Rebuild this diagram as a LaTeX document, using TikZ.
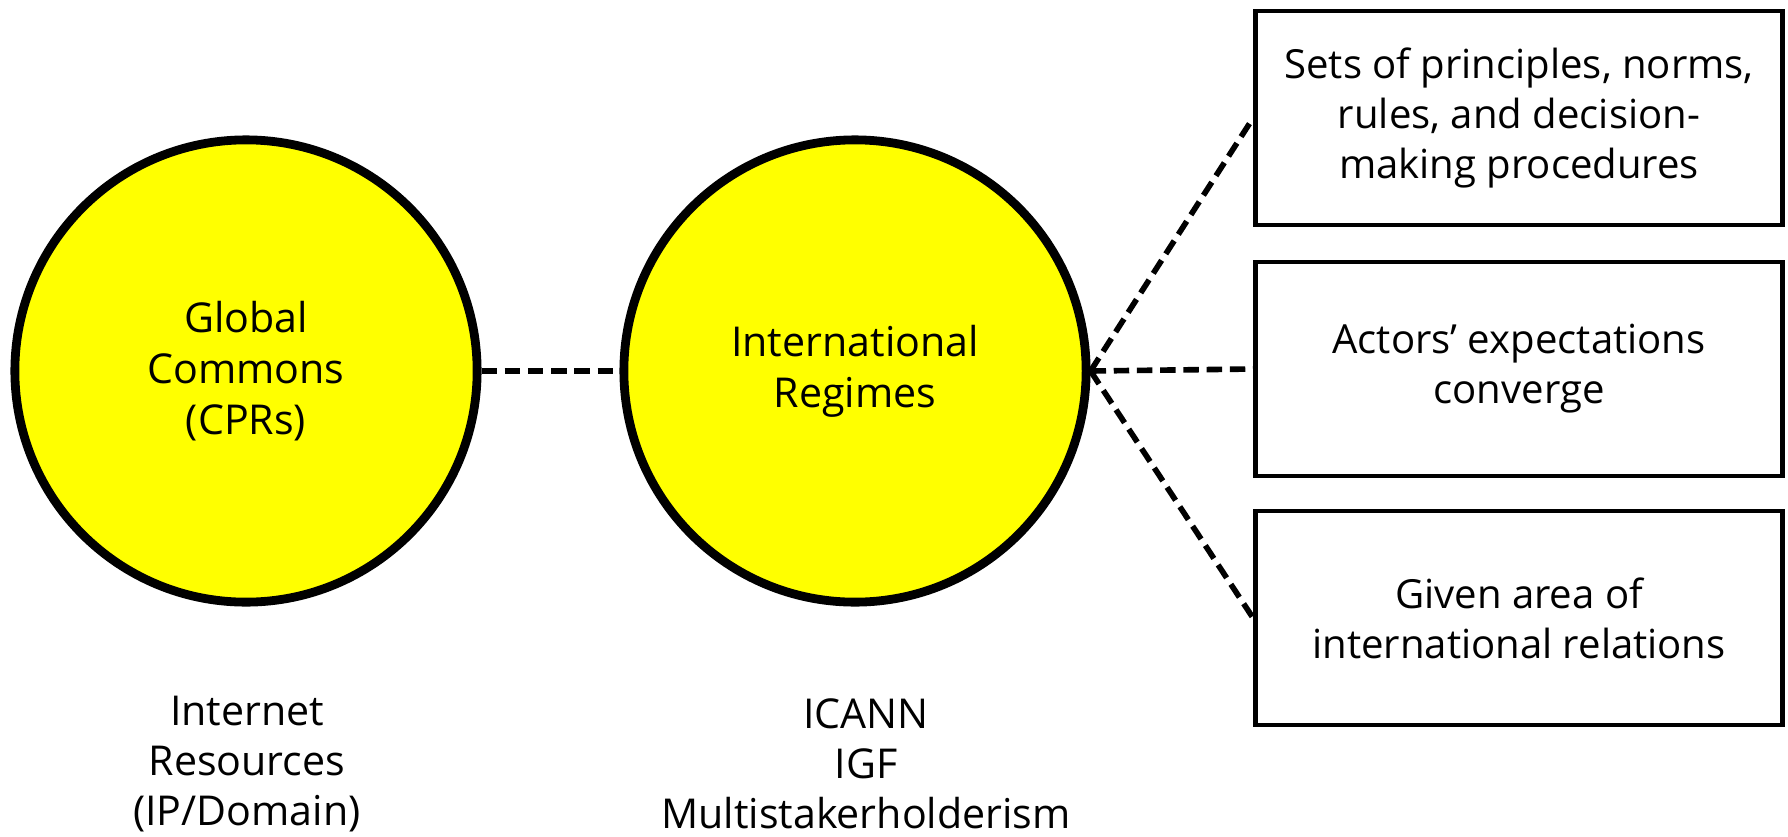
\documentclass[tikz,border=0pt]{standalone}
\usepackage{fontspec}
\setmainfont{Open Sans}
\usepackage{tikz}
\usetikzlibrary{calc,shapes.geometric}
\definecolor{regimeyellow}{RGB}{255,255,0}
\tikzset{
	regime/.style={circle, draw=black, line width=2.5pt, fill=regimeyellow, minimum size=4.62cm, align=center, inner sep=0pt, font=\fontsize{11.7}{14.6}\selectfont},
	pillar/.style={rectangle, draw=black, line width=1.3pt, minimum width=5.27cm, minimum height=2.14cm, align=center, font=\fontsize{11.4}{14.2}\selectfont},
	example/.style={align=center, font=\fontsize{11.7}{14.3}\selectfont},
	link/.style={line width=1.6pt, dash pattern=on 4.4pt off 2.2pt}
}

\begin{document}
\begin{tikzpicture}[x=0.01cm, y=-0.01cm]
		%%%%% START %%%%%
		\useasboundingbox (0, 0) rectangle (1788, 836);
		
		\node[regime] (gc) at (246, 371) {Global\\Commons\\(CPRs)};
		\node[regime] (ir) at (855, 371) {International\\Regimes};
		
		\node[pillar] (p1) at (1519, 118) {Sets of principles, norms,\\rules, and decision-\\making procedures};
		\node[pillar] (p2) at (1519, 369) {Actors’ expectations\\converge};
		\node[pillar] (p3) at (1519, 618) {Given area of\\international relations};
		
		\node[example] (ex1) at (247, 764) {Internet\\Resources\\(IP/Domain)};
		\node[example] (ex2) at (866, 764) {ICANN\\IGF\\Multistakerholderism};
		
		\draw[link] (gc) -- (ir);
		\draw[link] (ir.east) -- (p1.west);
		\draw[link] (ir.east) -- (p2.west);
		\draw[link] (ir.east) -- (p3.west);
		
		%%%%% END %%%%%
\end{tikzpicture}
\end{document}
